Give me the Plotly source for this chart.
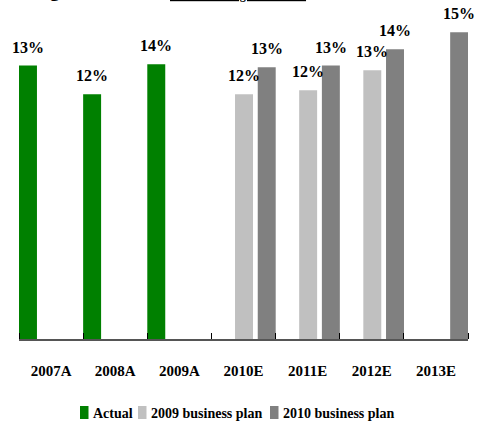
import plotly.graph_objects as go

# EBITDA margin by year: actuals and two business-plan vintages
years = ["2007A", "2008A", "2009A", "2010E", "2011E", "2012E", "2013E"]
actual = [0.1346, 0.1205, 0.1353, None, None, None, None]
plan_2009 = [None, None, None, 0.1205, 0.1225, 0.1323, None]
plan_2010 = [None, None, None, 0.1338, 0.1346, 0.1426, 0.1510]

series_names = ["Actual", "2009 business plan", "2010 business plan"]
series_colors = ["#008000", "#C0C0C0", "#808080"]
series_offsets = [-0.5, -0.132, 0.222]
bar_width = 0.28

FONT = "Liberation Serif, Times New Roman, serif"
x_idx = list(range(len(years)))

# plot-area geometry (pixels) used to place the key below the axis
L, R, T, B = 19, 15, 14, 85
W, H = 483, 424
pw, ph = W - L - R, H - T - B


def px_x(p):
    return (p - L) / pw


def px_y(p):
    return (H - B - p) / ph


fig = go.Figure()
annotations = []
shapes = []
for name, vals, color, off in zip(series_names, [actual, plan_2009, plan_2010],
                                   series_colors, series_offsets):
    fig.add_trace(go.Bar(
        x=x_idx, y=vals, name=name, marker_color=color,
        width=bar_width, offset=off, marker_line_width=0, showlegend=False,
    ))
    for i, v in zip(x_idx, vals):
        if v is None:
            continue
        annotations.append(dict(
            x=i + off + bar_width / 2, y=v, xref="x", yref="y",
            text=f"<b>{round(v * 100)}%</b>", showarrow=False,
            yanchor="bottom", yshift=8,
            font=dict(family=FONT, size=16, color="black"),
        ))

# key: coloured swatch followed by the series name
key_swatch_px = [80, 138, 270]
for name, color, sx in zip(series_names, series_colors, key_swatch_px):
    shapes.append(dict(
        type="rect", xref="paper", yref="paper",
        x0=px_x(sx), x1=px_x(sx + 8.5), y0=px_y(419), y1=px_y(406),
        fillcolor=color, line=dict(width=0),
    ))
    annotations.append(dict(
        x=px_x(sx + 11), y=px_y(413), xref="paper", yref="paper",
        xanchor="left", yanchor="middle", text=f"<b>{name}</b>", showarrow=False,
        font=dict(family=FONT, size=14, color="black"),
    ))

# heading lines sitting above the chart
annotations.append(dict(
    x=px_x(238), y=1.03, xref="paper", yref="paper", xanchor="center", yanchor="bottom",
    text="<b><u>EBITDA margin evolution</u></b>", showarrow=False,
    font=dict(family=FONT, size=12, color="black"),
))
annotations.append(dict(
    x=0.025, y=1.033, xref="paper", yref="paper", xanchor="left", yanchor="bottom",
    text="<b>Figure</b>", showarrow=False,
    font=dict(family=FONT, size=20, color="black"),
))

fig.update_layout(
    width=W, height=H,
    margin=dict(l=L, r=R, t=T, b=B, autoexpand=False),
    paper_bgcolor="white", plot_bgcolor="white",
    barmode="group",
    showlegend=False,
    annotations=annotations,
    shapes=shapes,
    xaxis=dict(
        range=[-0.5, 6.5], automargin=False,
        tickmode="array", tickvals=x_idx, ticktext=[f"<b>{y}</b>" for y in years],
        ticks="", showgrid=False, zeroline=False,
        showline=True, linecolor="#555555", linewidth=2,
        ticklabelstandoff=17,
        tickfont=dict(family=FONT, size=15, color="black"),
        minor=dict(
            tickmode="array", tickvals=[i - 0.5 for i in range(len(years) + 1)],
            ticks="inside", ticklen=6, tickwidth=1, tickcolor="black", showgrid=False,
        ),
    ),
    yaxis=dict(range=[0, 0.16], visible=False, automargin=False),
)

fig.write_html("out.html")
